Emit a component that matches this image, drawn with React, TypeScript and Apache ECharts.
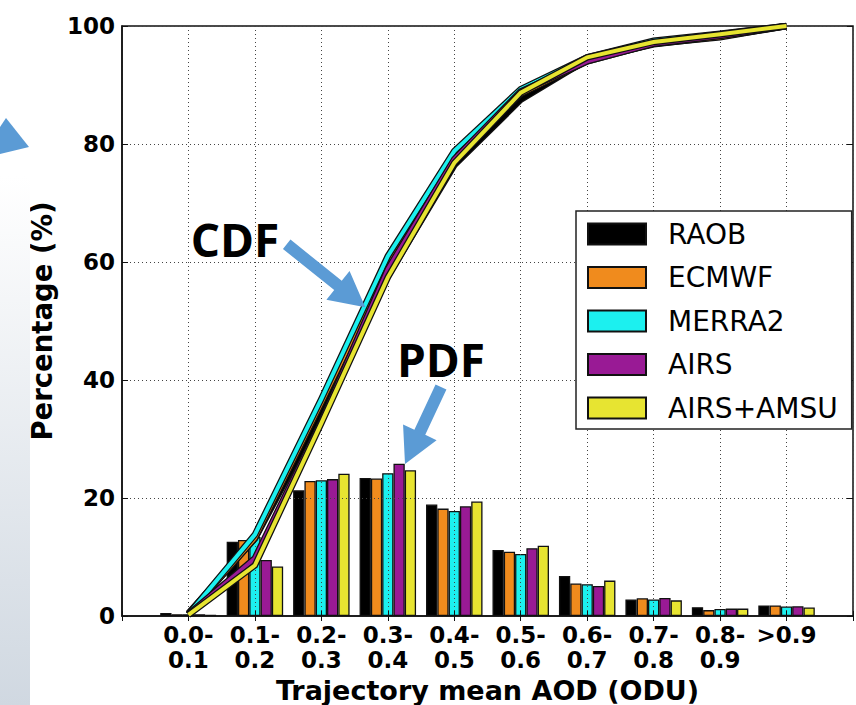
import React, { useEffect, useRef } from "react";
import * as echarts from "echarts";

// ---- Data ----
const categories = [
  "0.0-\n0.1", "0.1-\n0.2", "0.2-\n0.3", "0.3-\n0.4", "0.4-\n0.5",
  "0.5-\n0.6", "0.6-\n0.7", "0.7-\n0.8", "0.8-\n0.9", ">0.9",
];
const seriesNames = ["RAOB", "ECMWF", "MERRA2", "AIRS", "AIRS+AMSU"];

const raobPdf = [0.5, 12.6, 21.3, 23.4, 18.9, 11.2, 6.8, 2.8, 1.5, 1.8];
const ecmwfPdf = [0.3, 12.9, 22.9, 23.3, 18.2, 10.9, 5.5, 3.0, 1.0, 1.8];
const merra2Pdf = [0.3, 13.4, 23.0, 24.2, 17.8, 10.5, 5.4, 2.8, 1.2, 1.6];
const airsPdf = [0.3, 9.5, 23.2, 25.8, 18.6, 11.5, 5.1, 3.05, 1.25, 1.65];
const airsAmsuPdf = [0.2, 8.4, 24.1, 24.7, 19.4, 11.9, 6.0, 2.65, 1.25, 1.45];

const raobCdf = [0.5, 13.1, 34.3, 57.6, 76.4, 87.5, 94.3, 96.9, 98.2, 100];
const ecmwfCdf = [0.3, 13.2, 36.1, 59.4, 77.6, 88.5, 94.0, 97.0, 98.1, 100];
const merra2Cdf = [0.3, 13.8, 36.8, 61.0, 78.8, 89.3, 94.7, 97.5, 98.7, 100];
const airsCdf = [0.3, 9.8, 33.0, 58.8, 77.4, 88.9, 94.0, 97.0, 98.3, 100];
const airsAmsuCdf = [0.2, 8.6, 32.7, 57.4, 76.8, 88.7, 94.7, 97.3, 98.6, 100];

const yTicks = { min: 0, max: 100, interval: 20 };

const pdfs = [raobPdf, ecmwfPdf, merra2Pdf, airsPdf, airsAmsuPdf];
const cdfs = [raobCdf, ecmwfCdf, merra2Cdf, airsCdf, airsAmsuCdf];
const colors = ["#000000", "#f08b1d", "#1cf0ef", "#991a95", "#e7e431"];

// axis has an empty slot on each side of the categories
const axisCats = ["", ...categories, " "];

function blockArrow(sx: number, sy: number, tx: number, ty: number, shaftW: number, headL: number, headW: number) {
  const dx = tx - sx, dy = ty - sy;
  const L = Math.hypot(dx, dy);
  const ux = dx / L, uy = dy / L;
  const px = -uy, py = ux;
  const bx = tx - ux * headL, by = ty - uy * headL;
  const hs = shaftW / 2, hh = headW / 2;
  return [
    [sx + px * hs, sy + py * hs],
    [bx + px * hs, by + py * hs],
    [bx + px * hh, by + py * hh],
    [tx, ty],
    [bx - px * hh, by - py * hh],
    [bx - px * hs, by - py * hs],
    [sx - px * hs, sy - py * hs],
  ];
}

export default function App() {
  const ref = useRef<HTMLDivElement>(null);
  useEffect(() => {
    if (!ref.current) return;
    const chart = echarts.init(ref.current, null, { renderer: "svg" });
    const font = "DejaVu Sans";
    const barSeries = seriesNames.map((name, s) => ({
      name,
      type: "bar",
      xAxisIndex: 0,
      yAxisIndex: 0,
      barWidth: "17%",
      barGap: "0%",
      z: 2,
      itemStyle: { color: colors[s], borderColor: "#111", borderWidth: 1.3 },
      data: pdfs[s].map((v, i) => [i + 1, v]),
    }));
    const lineSeries: any[] = [];
    seriesNames.forEach((name, s) => {
      const d = cdfs[s].map((v, i) => [i + 1, v]);
      lineSeries.push({
        name: name + " CDF outline",
        type: "line",
        z: 5,
        symbol: "none",
        silent: true,
        lineStyle: { color: "#111", width: 6.5, join: "miter" },
        data: d,
      });
      lineSeries.push({
        name: name + " CDF",
        type: "line",
        z: 5,
        symbol: "none",
        silent: true,
        lineStyle: { color: colors[s], width: 4, join: "miter" },
        data: d,
      });
    });

    const blue = "#5b9bd5";
    const option: any = {
      animation: false,
      backgroundColor: "#ffffff",
      grid: {
        left: 122, right: 3, top: 26, bottom: 89,
        outerBoundsMode: "none",
        containLabel: false,
        show: true, borderColor: "#111", borderWidth: 1.5, backgroundColor: "transparent",
      },
      legend: {
        data: seriesNames,
        orient: "vertical",
        left: 576,
        top: 211,
        icon: "rect",
        itemWidth: 58,
        itemHeight: 21,
        itemGap: 15.5,
        padding: [9, 14, 7, 11],
        borderColor: "#222",
        borderWidth: 1.5,
        backgroundColor: "#fff",
        z: 10,
        textStyle: { fontFamily: font, fontSize: 28, color: "#000", padding: [0, 0, 0, 17] },
      },
      xAxis: [
        {
          type: "category",
          data: axisCats,
          boundaryGap: false,
          z: 3,
          axisLine: { show: true, lineStyle: { color: "#111", width: 1.5 } },
          axisTick: { show: true, inside: true, length: 5, lineStyle: { color: "#111" } },
          axisLabel: { interval: 0, fontFamily: font, fontWeight: "bold", fontSize: 23, lineHeight: 25, color: "#000", margin: 6 },
          splitLine: { show: true, interval: 0, lineStyle: { color: "#444", width: 1, type: [1, 3] } },
          name: "Trajectory mean AOD (ODU)",
          nameLocation: "middle",
          nameGap: 59,
          nameTextStyle: { fontFamily: font, fontWeight: "bold", fontSize: 27, color: "#000" },
        },
        {
          type: "category",
          data: axisCats,
          boundaryGap: false,
          position: "top",
          z: 3,
          axisLine: { show: false },
          axisTick: { show: true, inside: true, length: 5, lineStyle: { color: "#111" } },
          axisLabel: { show: false },
          splitLine: { show: false },
        },
      ],
      yAxis: [
        {
          type: "value",
          ...yTicks,
          z: 3,
          axisLine: { show: true, lineStyle: { color: "#111", width: 1.5 } },
          axisTick: { show: true, inside: true, length: 6, lineStyle: { color: "#111" } },
          axisLabel: { fontFamily: font, fontWeight: "bold", fontSize: 23, color: "#000", margin: 7 },
          splitLine: { show: true, lineStyle: { color: "#444", width: 1, type: [1, 3] } },
          name: "Percentage (%)",
          nameLocation: "middle",
          nameGap: 64,
          nameTextStyle: { fontFamily: font, fontWeight: "bold", fontSize: 27.5, color: "#000" },
        },
        {
          type: "value",
          ...yTicks,
          position: "right",
          z: 3,
          axisLine: { show: false },
          axisTick: { show: true, inside: true, length: 6, lineStyle: { color: "#111" } },
          axisLabel: { show: false },
          splitLine: { show: false },
        },
      ],
      series: [...barSeries, ...lineSeries],
      graphic: [
        {
          type: "rect",
          z: 100,
          shape: { x: 0, y: 0, width: 30, height: 705 },
          style: {
            fill: new echarts.graphic.LinearGradient(0, 0, 0, 1, [
              { offset: 0, color: "#ffffff" },
              { offset: 0.25, color: "#ffffff" },
              { offset: 1, color: "#d0d8e1" },
            ]),
          },
        },
        {
          type: "polygon",
          z: 101,
          shape: { points: [[0, 127], [6, 118], [29, 147], [0, 154]] },
          style: { fill: blue },
        },
        {
          type: "polygon",
          z: 100,
          shape: { points: blockArrow(286.7, 244.3, 365.3, 307.3, 12, 35, 37) },
          style: { fill: blue },
        },
        {
          type: "polygon",
          z: 100,
          shape: { points: blockArrow(441, 387, 405, 464, 12, 35, 37) },
          style: { fill: blue },
        },
        {
          type: "text",
          z: 100,
          x: 235,
          y: 239,
          style: {
            text: "CDF",
            fill: "#000",
            font: "bold 46px 'Open Sans'",
            textAlign: "center",
            textVerticalAlign: "middle",
          },
        },
        {
          type: "text",
          z: 100,
          x: 441,
          y: 359,
          style: {
            text: "PDF",
            fill: "#000",
            font: "bold 46px 'Open Sans'",
            textAlign: "center",
            textVerticalAlign: "middle",
          },
        },
      ],
    };
    chart.setOption(option);
    return () => chart.dispose();
  }, []);
  return <div ref={ref} style={{ position: "absolute", left: 0, top: 0, width: 856, height: 705 }} />;
}
